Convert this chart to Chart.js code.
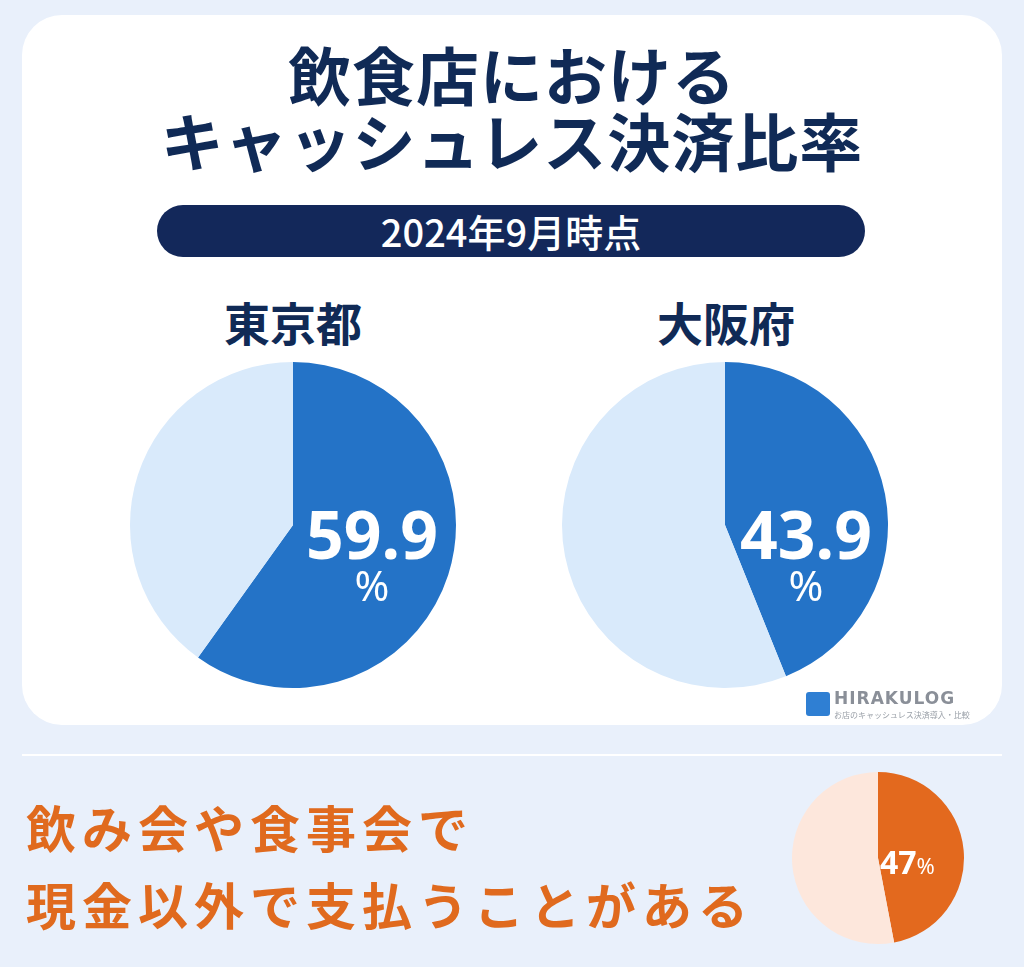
<!DOCTYPE html>
<html><head><meta charset="utf-8">
<script src="https://cdn.jsdelivr.net/npm/chart.js@4"></script>
<style>
body{margin:0;width:1024px;height:967px;background:#e9f0fb;font-family:"Noto Sans CJK JP","Noto Sans",sans-serif;position:relative;overflow:hidden}
.abs{position:absolute}
.card{left:22px;top:15px;width:980px;height:710px;background:#fff;border-radius:40px}
.title{left:0;width:1024px;text-align:center;color:#102a56;font-weight:700;font-size:63px;line-height:66px;letter-spacing:1px}
.pill{left:157px;top:205px;width:708px;height:52px;background:#13285a;border-radius:26px;color:#fff;font-size:38px;line-height:52px;text-align:center;font-weight:500}
.city{width:300px;text-align:center;color:#102a56;font-weight:700;font-size:46px;top:288px}
.num{color:#fff;font-family:"Noto Sans",sans-serif;font-weight:700;font-size:66px;text-align:center;width:200px}
.pct{color:#fff;font-family:"Noto Sans",sans-serif;font-size:42px;text-align:center;width:200px}
.bottom{left:26px;color:#e06a1e;font-weight:700;font-size:50px;line-height:77px;top:788px;letter-spacing:6px}
</style></head><body>
<div class="abs card"></div>
<div class="abs title" style="top:40px">飲食店における<br>キャッシュレス決済比率</div>
<div class="abs pill">2024年9月時点</div>
<div class="abs city" style="left:143px">東京都</div>
<div class="abs city" style="left:576px">大阪府</div>
<canvas id="c0" class="abs" width="330" height="330" style="left:128px;top:360px;width:330px;height:330px"></canvas>
<canvas id="c1" class="abs" width="330" height="330" style="left:560px;top:360px;width:330px;height:330px"></canvas>
<div class="abs num" style="left:272px;top:488px">59.9</div>
<div class="abs pct" style="left:272px;top:556px">%</div>
<div class="abs num" style="left:706px;top:488px">43.9</div>
<div class="abs pct" style="left:706px;top:556px">%</div>
<div class="abs" style="left:806px;top:692px;width:24px;height:24px;background:#2f7fd3;border-radius:3px"></div>
<div class="abs" style="left:834px;top:688px;color:#8a8f98;font-family:'DejaVu Sans',sans-serif;font-weight:700;font-size:17px;letter-spacing:1px">HIRAKULOG</div>
<div class="abs" style="left:834px;top:709px;color:#9aa0a8;font-size:8px">お店のキャッシュレス決済導入・比較</div>
<div class="abs" style="left:22px;top:754px;width:980px;height:2px;background:#fff"></div>
<div class="abs bottom">飲み会や食事会で<br>現金以外で支払うことがある</div>
<canvas id="c2" class="abs" width="176" height="176" style="left:790px;top:770px;width:176px;height:176px"></canvas>
<div class="abs" style="left:880px;top:840px;color:#fff;font-family:'Noto Sans',sans-serif"><span style="font-weight:700;font-size:32px">47</span><span style="font-size:22px">%</span></div>
<script>
var regions = ["東京都", "大阪府"];
var cashlessRates = [59.9, 43.9];
var drinkingPartyLabels = ["現金以外", "現金"];
var drinkingPartyValues = [47, 53];

function pie(id, values, colors) {
  new Chart(document.getElementById(id), {
    type: 'pie',
    data: { labels: ["キャッシュレス", "その他"], datasets: [{ data: values, backgroundColor: colors, borderWidth: 0 }] },
    options: { responsive: false, animation: false, layout: { padding: 2 },
      plugins: { legend: { display: false }, tooltip: { enabled: false } } }
  });
}
pie("c0", [cashlessRates[0], 100 - cashlessRates[0]], ["#2473c7", "#d9eafb"]);
pie("c1", [cashlessRates[1], 100 - cashlessRates[1]], ["#2473c7", "#d9eafb"]);
pie("c2", drinkingPartyValues, ["#e3691e", "#fde7dc"]);
</script>
</body></html>
